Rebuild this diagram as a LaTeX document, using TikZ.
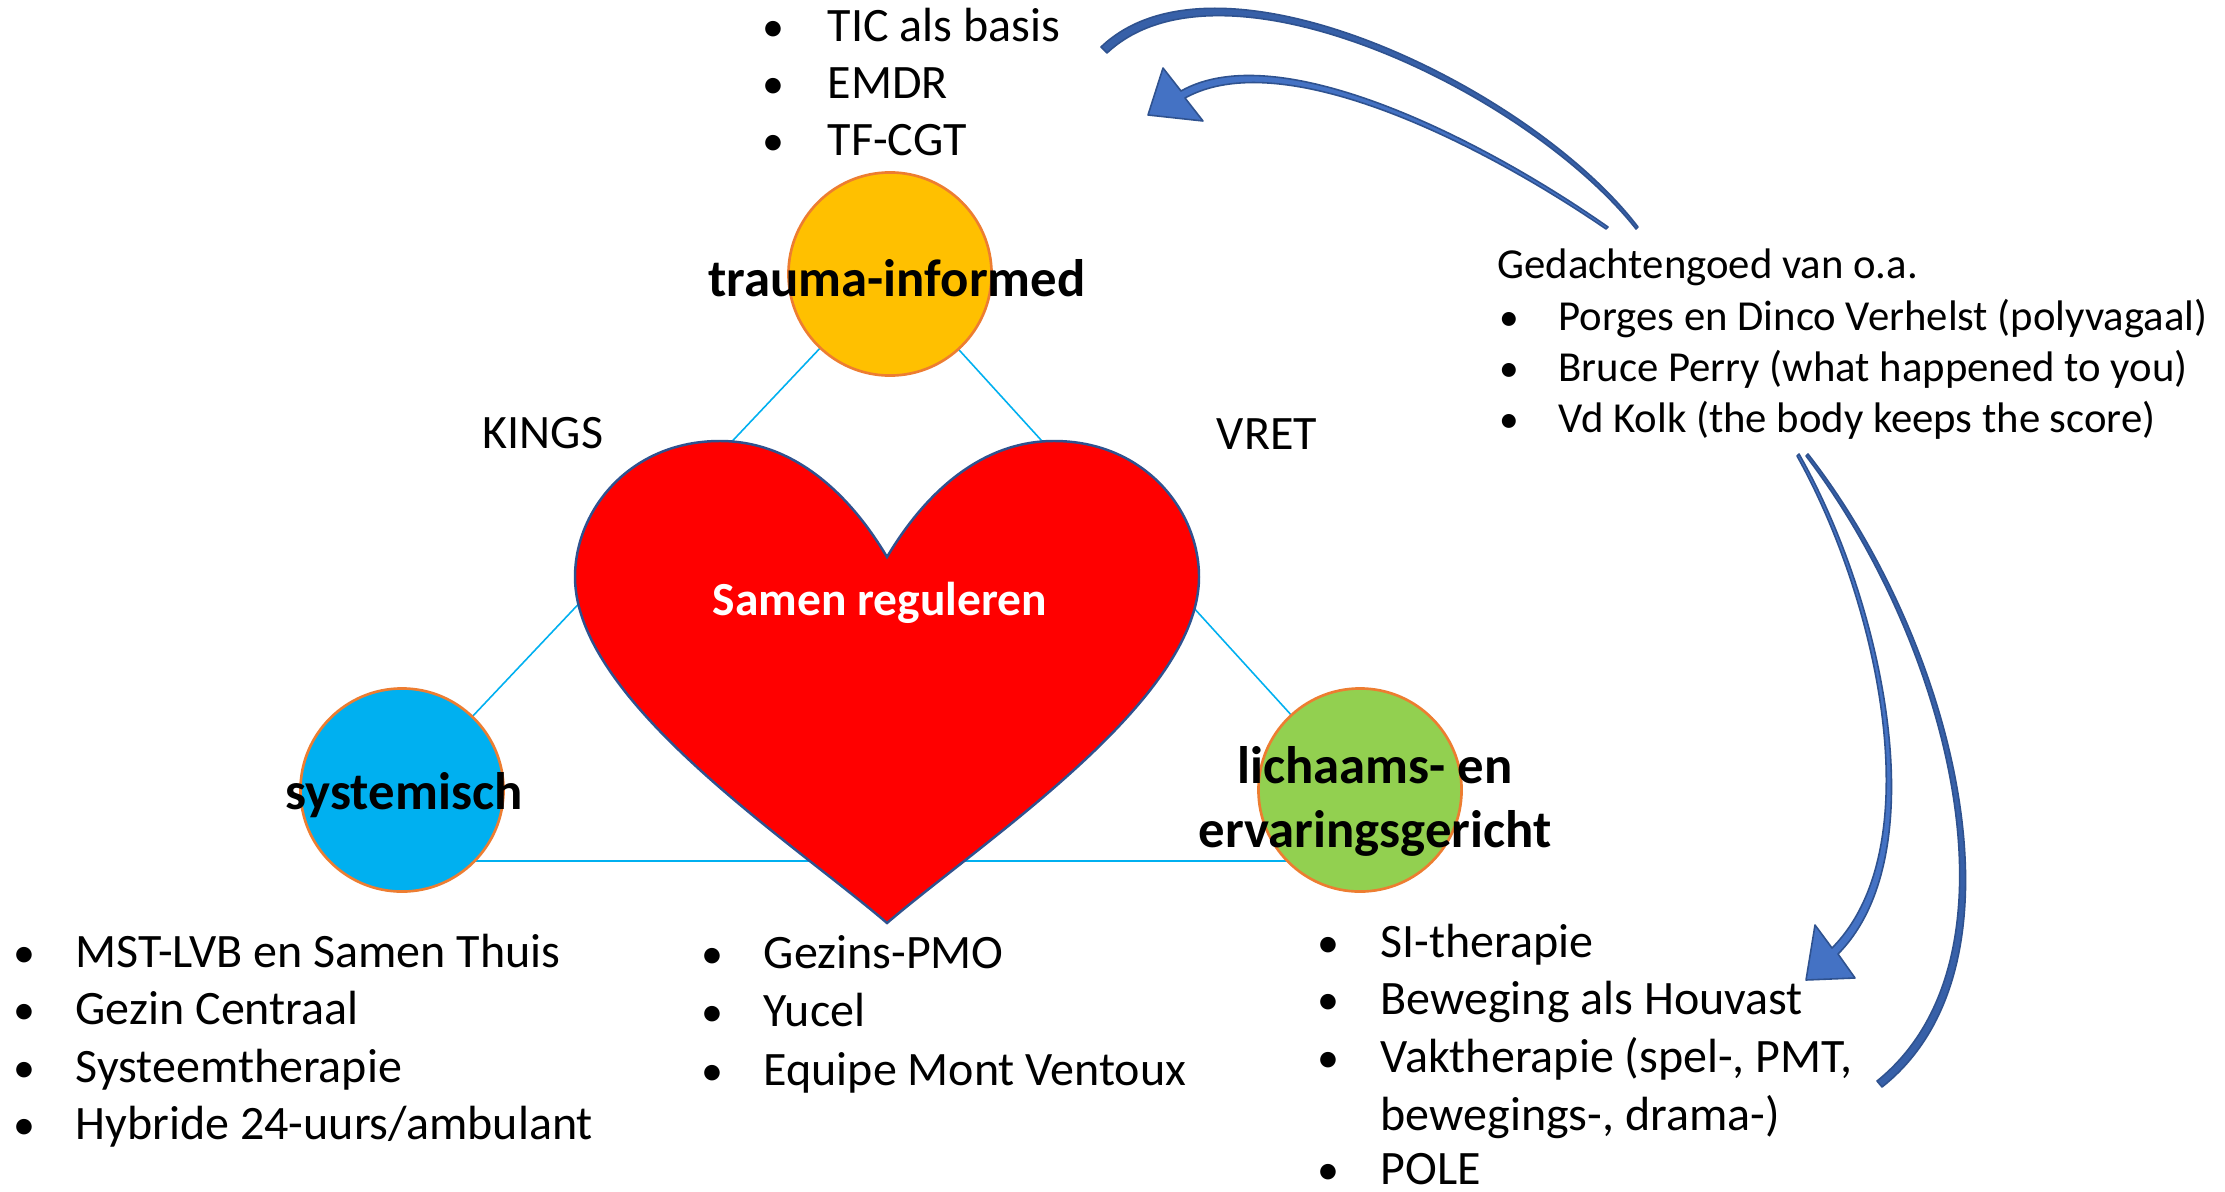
\documentclass[tikz,border=0pt]{standalone}
\usepackage{fontspec}
\setmainfont{Carlito}

\definecolor{traumageel}{HTML}{FFC000}
\definecolor{sysblauw}{HTML}{00B0F0}
\definecolor{lijfgroen}{HTML}{92D050}
\definecolor{ringoranje}{HTML}{ED7D31}
\definecolor{hartrood}{HTML}{FF0000}
\definecolor{pijlblauw}{HTML}{4472C4}
\definecolor{pijldonker}{HTML}{3760A8}
\definecolor{pijlrand}{HTML}{2F528F}

\begin{document}
\begin{tikzpicture}[x=0.01cm,y=-0.01cm,
bol/.style={circle,draw=ringoranje,line width=0.75pt,minimum size=2.03cm,inner sep=0pt},
kop/.style={font=\fontsize{15}{18}\selectfont\bfseries,inner sep=0pt,anchor=base},
tekst/.style={font=\fontsize{13.65}{16}\selectfont,inner sep=0pt,anchor=base west},
punt/.style={font=\fontsize{12.5}{15}\selectfont,inner sep=0pt,anchor=base},
klein/.style={font=\fontsize{12.15}{14}\selectfont,inner sep=0pt,anchor=base west},
kpunt/.style={font=\fontsize{11.2}{14}\selectfont,inner sep=0pt,anchor=base},
pijl/.style={fill=pijlblauw,draw=pijlrand,line width=0.45pt,line join=round}]

\fill[white] (0,0) rectangle (2225,1191);
\useasboundingbox (0,0) rectangle (2225,1191);

% triangle behind the three circles
\coordinate (ctrauma) at (890,274);
\coordinate (csys) at (402,790);
\coordinate (clijf) at (1360,790);
\coordinate (hoekl) at (336,861);
\coordinate (hoekr) at (1424,861);
\draw[sysblauw,line width=0.45pt] (ctrauma)--(hoekl)--(hoekr)--cycle;

\node[bol,fill=traumageel] (trauma) at (ctrauma) {};
\node[bol,fill=sysblauw] (sys) at (csys) {};
\node[bol,fill=lijfgroen] (lijf) at (clijf) {};

% heart
\draw[fill=hartrood,draw=pijlrand,line width=0.7pt] (887,557)
 .. controls (865,520) and (810,441) .. (720,441)
 .. controls (630,441) and (575,510) .. (575,577)
 .. controls (575,700) and (790,840) .. (887,923)
 .. controls (984,840) and (1199,700) .. (1199,577)
 .. controls (1199,510) and (1144,441) .. (1054,441)
 .. controls (964,441) and (909,520) .. (887,557) -- cycle;

\node[kop] (ltrauma) at (897,296) {trauma-informed};
\node[kop] (lsys) at (404,809) {systemisch};
\node[kop] (llijf1) at (1375,783) {lichaams- en};
\node[kop] (llijf2) at (1375,847) {ervaringsgericht};
\node[kop,font=\fontsize{13.5}{16}\selectfont\bfseries,white] (samen) at (880,615) {Samen reguleren};

\node[tekst,anchor=base] (kings) at (543,448) {KINGS};
\node[tekst,anchor=base] (vret) at (1267,449) {VRET};

% lists
\foreach \t [count=\i from 0] in {TIC als basis,EMDR,TF-CGT}
{
\node[punt] (ticb\i) at (773,{42+57*\i}) {\textbullet};
\node[tekst] (tic\i) at (827,{42+57*\i}) {\t};
}

\foreach \t [count=\i from 0] in {MST-LVB en Samen Thuis,Gezin Centraal,Systeemtherapie,Hybride 24-uurs/ambulant}
{
\node[punt] (sysb\i) at (24,{967+57.6*\i}) {\textbullet};
\node[tekst] (syst\i) at (75,{967+57.6*\i}) {\t};
}

\foreach \t [count=\i from 0] in {Gezins-PMO,Yucel,Equipe Mont Ventoux}
{
\node[punt] (midb\i) at (712,{968+58.5*\i}) {\textbullet};
\node[tekst] (midt\i) at (763,{968+58.5*\i}) {\t};
}

\foreach \t [count=\i from 0] in {SI-therapie,Beweging als Houvast,{Vaktherapie (spel-, PMT,}}
{
\node[punt] (lijfb\i) at (1328,{957+57.5*\i}) {\textbullet};
\node[tekst] (lijft\i) at (1380,{957+57.5*\i}) {\t};
}
\node[tekst] (lijft3) at (1380,1130) {bewegings-, drama-)};
\node[punt] (lijfb4) at (1328,1184) {\textbullet};
\node[tekst] (lijft4) at (1380,1184) {POLE};

\node[klein] (ged) at (1497,278) {Gedachtengoed van o.a.};
\foreach \t [count=\i from 0] in {Porges en Dinco Verhelst (polyvagaal),Bruce Perry (what happened to you),Vd Kolk (the body keeps the score)}
{
\node[kpunt] (gedb\i) at (1509,{330+51*\i}) {\textbullet};
\node[klein] (gedt\i) at (1558,{330+51*\i}) {\t};
}

% curved arrows
\draw[pijl,fill=pijldonker] (1638,227) .. controls (1532,88) and (1218,-65) .. (1101,47)
 -- (1107,53) .. controls (1222,-55) and (1528,92) .. (1636,229) -- cycle;
\draw[pijl] (1608,227) .. controls (1481,138) and (1278,36) .. (1181,91)
 -- (1163,68) -- (1148,115) -- (1203,121) -- (1185,98)
 .. controls (1282,44) and (1479,142) .. (1606,229) -- cycle;

\draw[pijl,fill=pijldonker] (1808,454) .. controls (1952,638) and (2039,963) .. (1882,1087)
 -- (1877,1081) .. controls (2031,957) and (1948,642) .. (1806,456) -- cycle;
\draw[pijl] (1799,454) .. controls (1882,599) and (1938,853) .. (1838,954)
 -- (1855,978) -- (1806,980) -- (1815,925) -- (1832,948)
 .. controls (1932,847) and (1878,601) .. (1797,456) -- cycle;
\end{tikzpicture}
\end{document}
